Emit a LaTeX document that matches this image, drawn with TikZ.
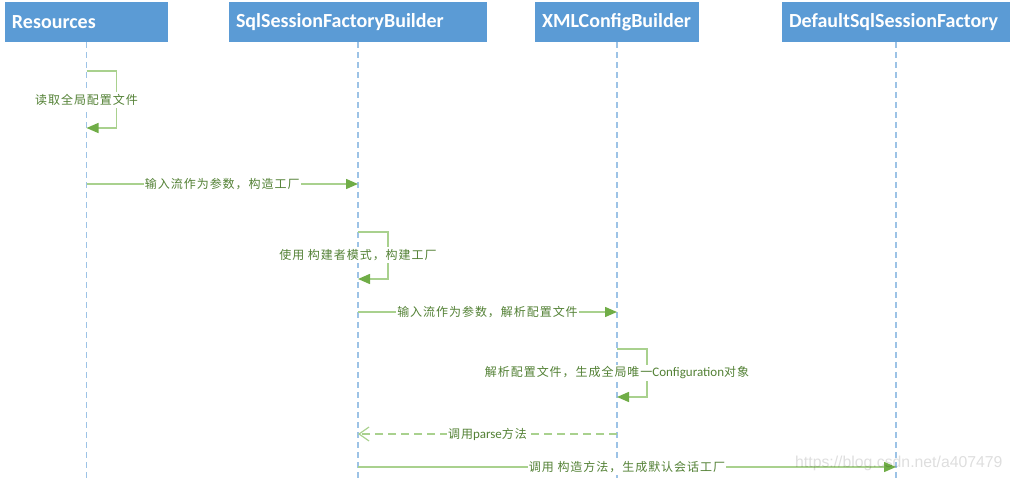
\documentclass[tikz,border=0pt]{standalone}
\usepackage{fontspec}
\setmainfont{Carlito}
\newfontfamily\cjk[LetterSpace=8]{Noto Sans CJK SC}
\newfontfamily\lat{Carlito}
\newfontfamily\wm{Liberation Sans}
\usetikzlibrary{arrows.meta}
\definecolor{hdr}{HTML}{5B9BD5}
\definecolor{life}{HTML}{9DC3E6}
\definecolor{lgreen}{HTML}{A9D18E}
\definecolor{agreen}{HTML}{70AD47}
\definecolor{tgreen}{HTML}{538135}
\begin{document}
\begin{tikzpicture}[x=1pt,y=-1pt,
 hdrbox/.style={fill=hdr, text=white, font=\fontsize{20}{22}\selectfont\bfseries, anchor=center, minimum height=40pt, inner xsep=7pt, inner ysep=0pt, align=left},
 lifeline/.style={life, line width=1.2pt, dash pattern=on 6pt off 4pt},
 msg/.style={lgreen, line width=1.5pt, -{Triangle[length=12pt,width=10pt,color=agreen]}},
 ret/.style={lgreen, line width=1.2pt, dash pattern=on 8pt off 5pt, -{Straight Barb[length=10pt,width=14pt]}},
 lbl/.style={fill=white, text=tgreen, inner xsep=1pt, inner ysep=2pt, font=\cjk\fontsize{12}{14}\selectfont}]
\useasboundingbox (0,0) rectangle (1012,481);
% headers
\node[hdrbox, text width=149pt] (res) at (86.5,22) {Resources};
\node[hdrbox, text width=244pt] (sql) at (358,22) {SqlSessionFactoryBuilder};
\node[hdrbox, text width=150pt] (xml) at (617,22) {XMLConfigBuilder};
\node[hdrbox, text width=214pt] (def) at (896,22) {DefaultSqlSessionFactory};
% lifeline ends
\coordinate (resE) at (res.south |- 0,481);
\coordinate (sqlE) at (sql.south |- 0,481);
\coordinate (xmlE) at (xml.south |- 0,481);
\coordinate (defE) at (def.south |- 0,481);
\draw[lifeline] (res.south) -- (resE);
\draw[lifeline] (sql.south) -- (sqlE);
\draw[lifeline] (xml.south) -- (xmlE);
\draw[lifeline] (def.south) -- (defE);
% message points
\coordinate (m1a) at (res |- 0,71);
\coordinate (m1b) at (res |- 0,128);
\coordinate (m2a) at (res |- 0,184);
\coordinate (m2b) at (sql |- 0,184);
\coordinate (m3a) at (sql |- 0,232);
\coordinate (m3b) at (sql |- 0,279);
\coordinate (m4a) at (sql |- 0,312);
\coordinate (m4b) at (xml |- 0,312);
\coordinate (m5a) at (xml |- 0,349);
\coordinate (m5b) at (xml |- 0,397);
\coordinate (m6a) at (xml |- 0,434);
\coordinate (m6b) at (sql |- 0,434);
\coordinate (m7a) at (sql |- 0,467);
\coordinate (m7b) at (def |- 0,467);
% messages
\draw[msg] (m1a) -- ++(30,0) |- (m1b);
\node[lbl] (l1) at (res |- 0,100) {读取全局配置文件};
\draw[msg] (m2a) -- node[lbl] (l2) {输入流作为参数，构造工厂} (m2b);
\draw[msg] (m3a) -- ++(30,0) |- (m3b);
\node[lbl] (l3) at (sql |- 0,255) {使用 构建者模式，构建工厂};
\draw[msg] (m4a) -- node[lbl] (l4) {输入流作为参数，解析配置文件} (m4b);
\draw[msg] (m5a) -- ++(30,0) |- (m5b);
\node[lbl] (l5) at (xml |- 0,373) {解析配置文件，生成全局唯一{\lat\fontsize{13}{14}\selectfont Configuration}对象};
\draw[ret] (m6a) -- node[lbl] (l6) {调用{\lat\fontsize{13}{14}\selectfont parse}方法} (m6b);
\draw[msg] (m7a) -- node[lbl] (l7) {调用 构造方法，生成默认会话工厂} (m7b);
% watermark
\node[font=\wm\fontsize{15.8}{17}\selectfont, text=black, text opacity=0.13, anchor=west, inner sep=0pt] (wm) at (795,463) {https://blog.csdn.net/a407479};
\end{tikzpicture}
\end{document}
